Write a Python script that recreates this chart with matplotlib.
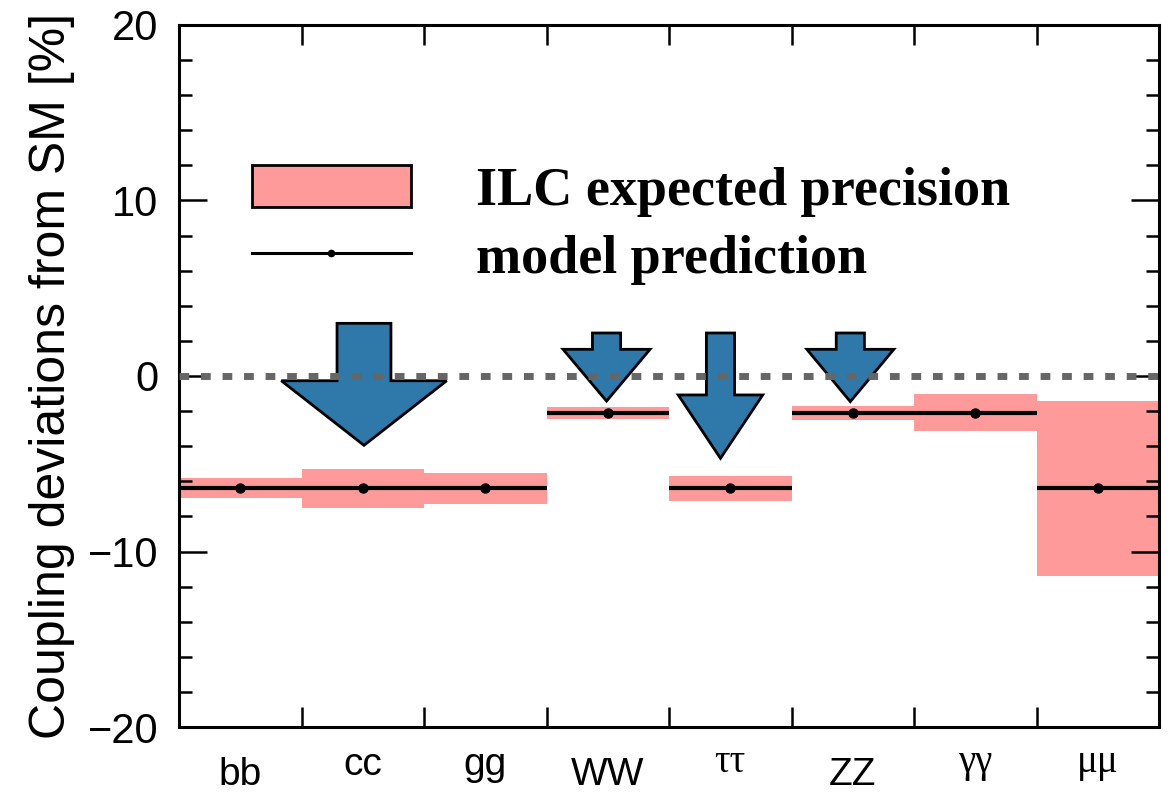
import matplotlib.pyplot as plt
from matplotlib.lines import Line2D
from matplotlib.patches import Patch
import numpy as np

# Higgs coupling deviations: model prediction vs. ILC precision
channels = ['bb', 'cc', 'gg', 'WW', 'ττ', 'ZZ', 'γγ', 'μμ']
prediction = [-6.4, -6.4, -6.4, -2.1, -6.4, -2.1, -2.1, -6.4]
precision = [0.57, 1.1, 0.88, 0.36, 0.73, 0.38, 1.06, 5.0]

# arrows showing the shift of the prediction
arrow_channels = ['cc', 'WW', 'ττ', 'ZZ']
arrow_shift = [0.01, -0.01, -0.08, -0.02]
arrow_start = [3.0, 2.45, 2.45, 2.45]
arrow_end = [-3.95, -1.43, -4.69, -1.46]
arrow_shaft = [0.44, 0.23, 0.23, 0.23]
arrow_head = [1.35, 0.71, 0.69, 0.71]
arrow_head_len = [3.68, 2.95, 3.61, 2.98]

band_color = '#ff9a9a'
arrow_color = '#2e78aa'
sans = ['Liberation Sans', 'DejaVu Sans']
serif = ['Liberation Serif', 'DejaVu Serif']

fig = plt.figure(figsize=(11.73, 7.95), dpi=100)
ax = fig.add_axes([0.1526, 0.0855, 0.8355, 0.8831])

x = np.arange(len(channels))
lo = np.array(prediction) - np.array(precision)
ax.bar(x + 0.5, 2 * np.array(precision), bottom=lo, width=1.0,
       color=band_color, linewidth=0, zorder=1)
ax.hlines(prediction, x, x + 1, color='black', lw=3.0, zorder=2)
ax.plot(x + 0.5, prediction, 'o', color='black', ms=6.5, zorder=2)

for name, dx, y0, y1, w, hw, hl in zip(arrow_channels, arrow_shift, arrow_start,
                                       arrow_end, arrow_shaft, arrow_head, arrow_head_len):
    xc = channels.index(name) + 0.5 + dx
    ax.arrow(xc, y0, 0, y1 - y0, width=w, head_width=hw, head_length=hl,
             length_includes_head=True, fc=arrow_color, ec='black', lw=2.0, zorder=3)

ax.axhline(0, color='#666666', lw=5, ls=(0, (1.4, 1.7)), zorder=4)

ax.set_xlim(0, len(channels))
ax.set_ylim(-20, 20)

# axis frame and ticks
for sp in ax.spines.values():
    sp.set_linewidth(2.2)
ax.set_yticks(np.arange(-20, 21, 10))
ax.set_yticks(np.arange(-20, 21, 2), minor=True)
ax.set_xticks(np.arange(0, len(channels) + 1))
ax.set_xticklabels([])
ax.tick_params(axis='y', which='major', direction='in', length=20, width=1.8,
               right=True, pad=15, labelsize=30)
ax.tick_params(axis='y', which='minor', direction='in', length=9.5, width=1.8, right=True)
ax.tick_params(axis='x', which='major', direction='in', length=14.5, width=1.8, top=True)
for lab in ax.get_yticklabels():
    lab.set_fontfamily(sans)

ax.set_ylabel('Coupling deviations from SM [%]', fontsize=36, family=sans, labelpad=9)

# category names under the axis
for i, name in enumerate(channels):
    greek = any(c in 'τγμ' for c in name)
    tall = any(c in 'bdfhklt' or c.isupper() for c in name)
    if greek:
        off, fam = -32.5, serif
    elif tall:
        off, fam = -41.8, sans
    else:
        off, fam = -34.6, sans
    ax.annotate(name, xy=(i + 0.5, 0), xycoords=('data', 'axes fraction'),
                xytext=(0, off), textcoords='offset points', ha='center',
                va='baseline', fontsize=28, family=fam, annotation_clip=False)

handles = [Patch(facecolor=band_color, edgecolor='black', linewidth=2.0),
           Line2D([], [], color='black', lw=2.2, marker='o', ms=4.5)]
ax.legend(handles, ['ILC expected precision', 'model prediction'],
          loc='upper left', bbox_to_anchor=(0.074, 0.80), frameon=False,
          prop={'family': serif, 'weight': 'bold', 'size': 39},
          handlelength=2.95, handleheight=0.8, handletextpad=1.2,
          labelspacing=0.3, borderpad=0, borderaxespad=0)

fig.savefig('out.png', dpi=100)
